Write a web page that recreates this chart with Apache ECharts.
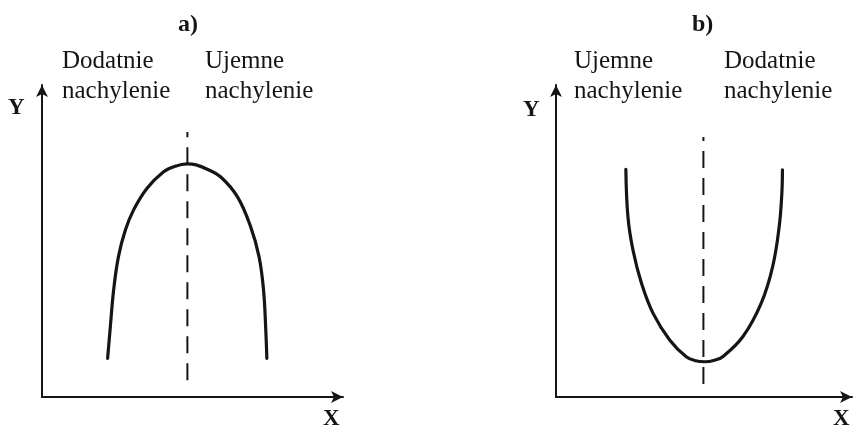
<!DOCTYPE html>
<html>
<head>
<meta charset="utf-8">
<script src="https://cdn.jsdelivr.net/npm/echarts@6/dist/echarts.min.js"></script>
<style>
  html, body { margin: 0; padding: 0; background: #fff; }
  #chart { width: 854px; height: 427px; }
</style>
</head>
<body>
<div id="chart"></div>
<script>
    // a) krzywa odwrócona (maksimum)
    var curveA = [
        [2.18, 1.24], [2.27, 2.25], [2.38, 3.43], [2.54, 4.50], [2.77, 5.35],
        [3.04, 5.99], [3.49, 6.69], [4.04, 7.22], [4.40, 7.39], [4.83, 7.47],
        [5.12, 7.44], [5.49, 7.30], [5.93, 7.06], [6.49, 6.42], [6.93, 5.46],
        [7.21, 4.50], [7.36, 3.43], [7.43, 2.25], [7.47, 1.24]
    ];
    var axisA = [[4.83, 0.54], [4.83, 8.49]];

    // b) krzywa w kształcie U (minimum)
    var curveB = [
        [2.36, 7.30], [2.43, 5.78], [2.60, 4.71], [2.89, 3.64], [3.28, 2.68],
        [3.84, 1.83], [4.40, 1.29], [4.72, 1.16], [5.03, 1.13], [5.36, 1.18],
        [5.63, 1.29], [6.31, 1.93], [6.93, 3.00], [7.32, 4.18], [7.54, 5.46],
        [7.63, 6.53], [7.65, 7.28]
    ];
    var axisB = [[4.98, 0.42], [4.98, 8.33]];

    var panelTitles = ['a)', 'b)'];
    var slopeLabels = {
        a: ['Dodatnie\nnachylenie', 'Ujemne\nnachylenie'],
        b: ['Ujemne\nnachylenie', 'Dodatnie\nnachylenie']
    };

    var serif = "'Liberation Serif', 'DejaVu Serif', serif";
    var ink = '#151515';

    function axisX(idx) {
        return {
            type: 'value', gridIndex: idx, min: 0, max: 10,
            axisLine: { show: true, symbol: ['none', 'arrow'], symbolSize: [9, 12], lineStyle: { color: ink, width: 2 } },
            axisTick: { show: false }, axisLabel: { show: false }, splitLine: { show: false }
        };
    }
    function axisY(idx) {
        return {
            type: 'value', gridIndex: idx, min: 0, max: 10,
            axisLine: { show: true, symbol: ['none', 'arrow'], symbolSize: [9, 12], lineStyle: { color: ink, width: 2 } },
            axisTick: { show: false }, axisLabel: { show: false }, splitLine: { show: false }
        };
    }
    function curve(idx, data) {
        return {
            type: 'line', xAxisIndex: idx, yAxisIndex: idx, data: data,
            smooth: 0.4, symbol: 'none', silent: true,
            lineStyle: { color: ink, width: 3.2, cap: 'round' }
        };
    }
    function dashed(idx, data) {
        return {
            type: 'line', xAxisIndex: idx, yAxisIndex: idx, data: data,
            symbol: 'none', silent: true,
            lineStyle: { color: ink, width: 2, type: [17, 10] }
        };
    }
    function txt(x, y, s, size, bold, align) {
        return {
            type: 'text', left: x, top: y, silent: true,
            style: {
                text: s, fill: ink, align: align || 'left', verticalAlign: 'top',
                font: (bold ? 'bold ' : '') + size + 'px ' + serif, lineHeight: 30
            }
        };
    }

    var myChart = echarts.init(document.getElementById('chart'));
    var option = {
        backgroundColor: '#fff',
        animation: false,
        grid: [
            { left: 42, top: 85, width: 301, height: 312 },
            { left: 556, top: 85, width: 296, height: 312 }
        ],
        xAxis: [axisX(0), axisX(1)],
        yAxis: [axisY(0), axisY(1)],
        series: [
            curve(0, curveA), dashed(0, axisA),
            curve(1, curveB), dashed(1, axisB)
        ],
        graphic: [
            txt(178, 10, panelTitles[0], 24, true),
            txt(62, 46, slopeLabels.a[0], 25, false),
            txt(205, 46, slopeLabels.a[1], 25, false),
            txt(8, 93, 'Y', 23, true),
            txt(323, 404, 'X', 23, true),

            txt(692, 10, panelTitles[1], 24, true),
            txt(574, 46, slopeLabels.b[0], 25, false),
            txt(724, 46, slopeLabels.b[1], 25, false),
            txt(523, 95, 'Y', 23, true),
            txt(833, 404, 'X', 23, true)
        ]
    };
    myChart.setOption(option);
</script>
</body>
</html>
